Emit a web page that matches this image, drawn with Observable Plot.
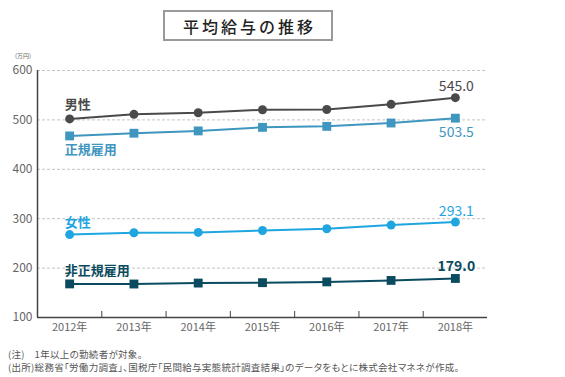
<!DOCTYPE html>
<html>
<head>
<meta charset="utf-8">
<script src="https://cdn.jsdelivr.net/npm/d3@7"></script>
<script src="https://cdn.jsdelivr.net/npm/@observablehq/plot@0.6"></script>
<style>
  html, body { margin: 0; padding: 0; background: #fff; }
  body { width: 565px; height: 377px; position: relative; overflow: hidden; font-family: "Noto Sans CJK JP", "Noto Sans", sans-serif; }
  #chart { position: absolute; left: 0; top: 0; }
  .title { position: absolute; left: 163px; top: 10px; width: 170px; height: 31px; box-sizing: border-box;
           border: 2px solid #9a9a9a; display: flex; align-items: center; justify-content: center;
           font-size: 16px; font-weight: 500; letter-spacing: 3px; color: #222; padding-left: 3px; }
  .unit { position: absolute; left: 15px; top: 53px; font-size: 6px; line-height: 6px; color: #666; }
  .note { position: absolute; left: 8px; font-size: 9.5px; color: #555; white-space: nowrap; line-height: 12px; font-feature-settings: "palt"; letter-spacing: 0.3px; }
</style>
</head>
<body>
<div id="chart"></div>
<div class="title">平均給与の推移</div>
<div class="unit">(万円)</div>
<div class="note" style="top:348px">(注)　1年以上の勤続者が対象。</div>
<div class="note" style="top:361px">(出所)総務省「労働力調査」、国税庁「民間給与実態統計調査結果」のデータをもとに株式会社マネネが作成。</div>
<script>
const years = [2012, 2013, 2014, 2015, 2016, 2017, 2018];
const male = [502.0, 511.3, 514.4, 520.5, 521.1, 531.5, 545.0];
const regular = [467.6, 473.0, 477.7, 484.9, 486.9, 493.7, 503.5];
const female = [267.9, 271.5, 272.2, 276.0, 279.7, 287.0, 293.1];
const nonRegular = [168.0, 167.8, 169.7, 170.5, 172.1, 175.1, 179.0];
const seriesNames = ["男性", "正規雇用", "女性", "非正規雇用"];
const seriesColors = ["#4a4a4a", "#3f96bf", "#1fa6e0", "#0b4b60"];
const seriesMarkers = ["circle", "square", "circle", "square"];
const yTicks = [100, 200, 300, 400, 500, 600];

const seriesValues = [male, regular, female, nonRegular];
const rows = [];
seriesNames.forEach((name, i) => {
  years.forEach((year, j) => rows.push({series: name, year, value: seriesValues[i][j], idx: i}));
});
const first = rows.filter(d => d.year === years[0]);
const last = rows.filter(d => d.year === years[years.length - 1]);
const boundaries = years.slice(0, -1).map(y => y + 0.5);
const xDomain = [years[0] - 0.5, years[years.length - 1] + 0.5];

const nameDy = [-14, 14, -12, -13];
const valueDy = [-11, 14, -11, -12];

const marks = [
  Plot.gridY(yTicks, {stroke: "#c4c4c4", strokeOpacity: 1, strokeDasharray: "3,2"}),
  Plot.ruleY([yTicks[0]], {stroke: "#444", strokeWidth: 1.5}),
  Plot.ruleX([xDomain[0]], {stroke: "#444", strokeWidth: 1.5}),
  Plot.axisY({ticks: yTicks, tickSize: 0, tickPadding: 5, fontSize: 12, color: "#666", label: null}),
  Plot.axisX({ticks: boundaries, tickSize: 6, dy: -6, tickFormat: () => "", stroke: "#444", label: null}),
  Plot.axisX({ticks: years, tickSize: 0, tickPadding: 6, fontSize: 11, color: "#666", tickFormat: d => d + "年", label: null})
];
seriesNames.forEach((name, i) => {
  const data = rows.filter(d => d.series === name);
  marks.push(Plot.line(data, {x: "year", y: "value", stroke: seriesColors[i], strokeWidth: 2}));
  marks.push(Plot.dot(data, {x: "year", y: "value", fill: seriesColors[i], stroke: "none", symbol: seriesMarkers[i], r: seriesMarkers[i] === "square" ? 5 : 4.5}));
  marks.push(Plot.text(first.filter(d => d.series === name), {x: "year", y: "value", text: "series", textAnchor: "start", dx: -5, dy: nameDy[i], fill: seriesColors[i], fontSize: 13, fontWeight: "bold"}));
  marks.push(Plot.text(last.filter(d => d.series === name), {x: "year", y: "value", text: d => d.value.toFixed(1), dx: 1, dy: valueDy[i], fill: seriesColors[i], fontSize: 14, fontWeight: i === 3 ? "bold" : "normal"}));
});

const chart = Plot.plot({
  width: 565,
  height: 377,
  marginLeft: 37,
  marginRight: 78,
  marginTop: 70,
  marginBottom: 60,
  x: {type: "linear", domain: xDomain, axis: null},
  y: {type: "linear", domain: [yTicks[0], yTicks[yTicks.length - 1]], axis: null},
  style: {fontFamily: "'Noto Sans CJK JP', 'Noto Sans', sans-serif", background: "transparent", overflow: "visible"},
  marks
});
document.getElementById("chart").appendChild(chart);
</script>
</body>
</html>
